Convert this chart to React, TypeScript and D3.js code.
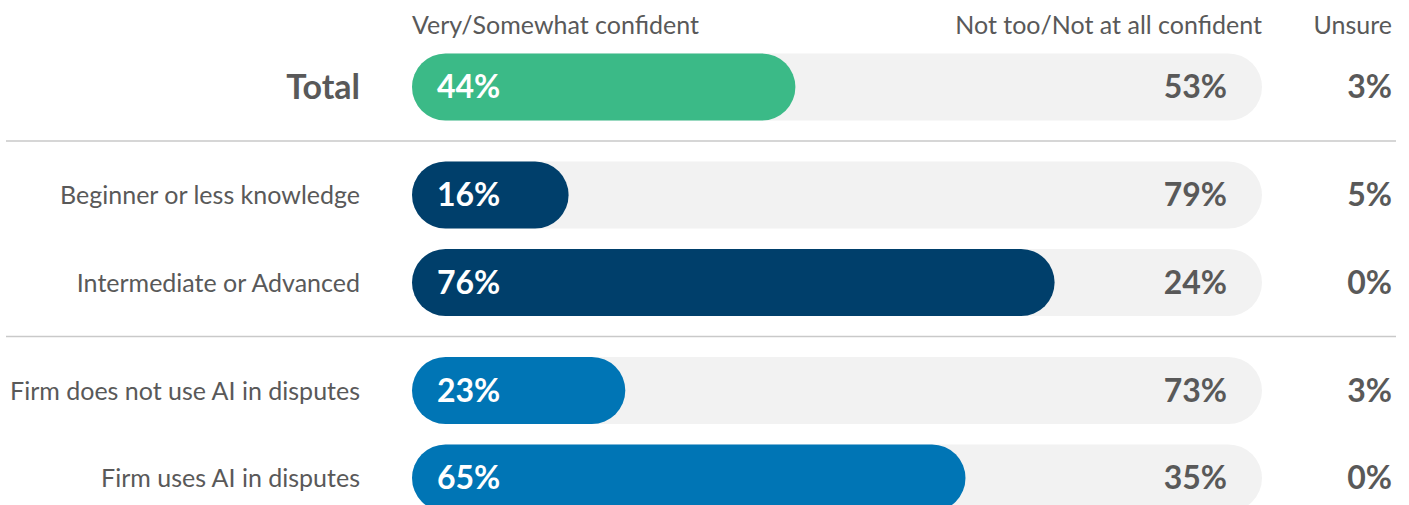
import React, { useEffect, useRef } from 'react';
import * as d3 from 'd3';

const categories = [
  'Total',
  'Beginner or less knowledge',
  'Intermediate or Advanced',
  'Firm does not use AI in disputes',
  'Firm uses AI in disputes',
];
const groupOf = [0, 1, 1, 2, 2];
const confident = [44, 16, 76, 23, 65];
const notConfident = [53, 79, 24, 73, 35];
const unsure = [3, 5, 0, 3, 0];
const headers = ['Very/Somewhat confident', 'Not too/Not at all confident', 'Unsure'];
const groupColors = ['#3bba87', '#003f6b', '#0075b5'];

const W = 1409;
const H = 505;
const FONT = "Lato, 'Noto Sans', sans-serif";

const App = () => {
  const svgRef = useRef<SVGSVGElement>(null);

  useEffect(() => {
    const svg = d3.select(svgRef.current);
    svg.selectAll('*').remove();

    const barLeft = 412;
    const trackW = 850;
    const barH = 67;
    const rowStep = 87.5;
    const groupGap = 20.5;
    const firstRow = 87;
    const textColor = '#595959';

    // bar length scale (pill keeps a minimum width of its cap)
    const x = d3.scaleLinear().domain([0, 100]).range([27, 837]);
    const rowY = (i: number) => firstRow + i * rowStep + groupOf[i] * groupGap;

    const rows = categories.map((c, i) => ({
      label: c,
      group: groupOf[i],
      conf: confident[i],
      notConf: notConfident[i],
      unsure: unsure[i],
      y: rowY(i),
      i,
    }));

    // Column headers
    const hdr = svg.append('g').style('font-family', FONT).style('font-size', '25px').attr('fill', textColor);
    hdr.append('text').attr('x', barLeft).attr('y', 34).text(headers[0]);
    hdr.append('text').attr('x', barLeft + trackW).attr('y', 34).attr('text-anchor', 'end').text(headers[1]);
    hdr.append('text').attr('x', 1392).attr('y', 34).attr('text-anchor', 'end').text(headers[2]);

    // Group separators
    const seps = rows.filter((r, i) => i > 0 && groupOf[i] !== groupOf[i - 1]);
    svg.selectAll('.sep')
      .data(seps)
      .enter().append('line')
      .attr('class', 'sep')
      .attr('x1', 6)
      .attr('x2', 1396)
      .attr('y1', d => (d.y + rowY(d.i - 1)) / 2)
      .attr('y2', d => (d.y + rowY(d.i - 1)) / 2)
      .attr('stroke', '#c9c9c9')
      .attr('stroke-width', 1.5);

    const g = svg.selectAll('.row')
      .data(rows)
      .enter().append('g')
      .attr('class', 'row')
      .attr('transform', d => `translate(0,${d.y})`);

    // background track
    g.append('rect')
      .attr('x', barLeft)
      .attr('y', -barH / 2)
      .attr('width', trackW)
      .attr('height', barH)
      .attr('rx', barH / 2)
      .attr('fill', '#f2f2f2');

    // confident bar
    g.append('rect')
      .attr('x', barLeft)
      .attr('y', -barH / 2)
      .attr('width', d => x(d.conf))
      .attr('height', barH)
      .attr('rx', barH / 2)
      .attr('fill', d => groupColors[d.group]);

    // category labels
    g.append('text')
      .attr('x', 360)
      .attr('y', d => (d.i === 0 ? 12 : 9))
      .attr('text-anchor', 'end')
      .style('font-family', FONT)
      .style('font-size', d => (d.i === 0 ? '34px' : '25px'))
      .style('font-weight', d => (d.i === 0 ? 700 : 400))
      .attr('fill', textColor)
      .text(d => d.label);

    // value inside bar
    g.append('text')
      .attr('x', barLeft + 25)
      .attr('y', 11)
      .style('font-family', FONT)
      .style('font-size', '32px')
      .style('font-weight', 700)
      .attr('fill', '#ffffff')
      .text(d => `${d.conf}%`);

    // not confident value
    g.append('text')
      .attr('x', barLeft + trackW - 35)
      .attr('y', 11)
      .attr('text-anchor', 'end')
      .style('font-family', FONT)
      .style('font-size', '32px')
      .style('font-weight', 700)
      .attr('fill', textColor)
      .text(d => `${d.notConf}%`);

    // unsure value
    g.append('text')
      .attr('x', 1392)
      .attr('y', 11)
      .attr('text-anchor', 'end')
      .style('font-family', FONT)
      .style('font-size', '32px')
      .style('font-weight', 700)
      .attr('fill', textColor)
      .text(d => `${d.unsure}%`);
  }, []);

  return (
    <div style={{ position: 'fixed', left: 0, top: 0, width: W, height: H, background: '#fff' }}>
      <svg ref={svgRef} width={W} height={H} style={{ display: 'block' }} />
    </div>
  );
};

export default App;
